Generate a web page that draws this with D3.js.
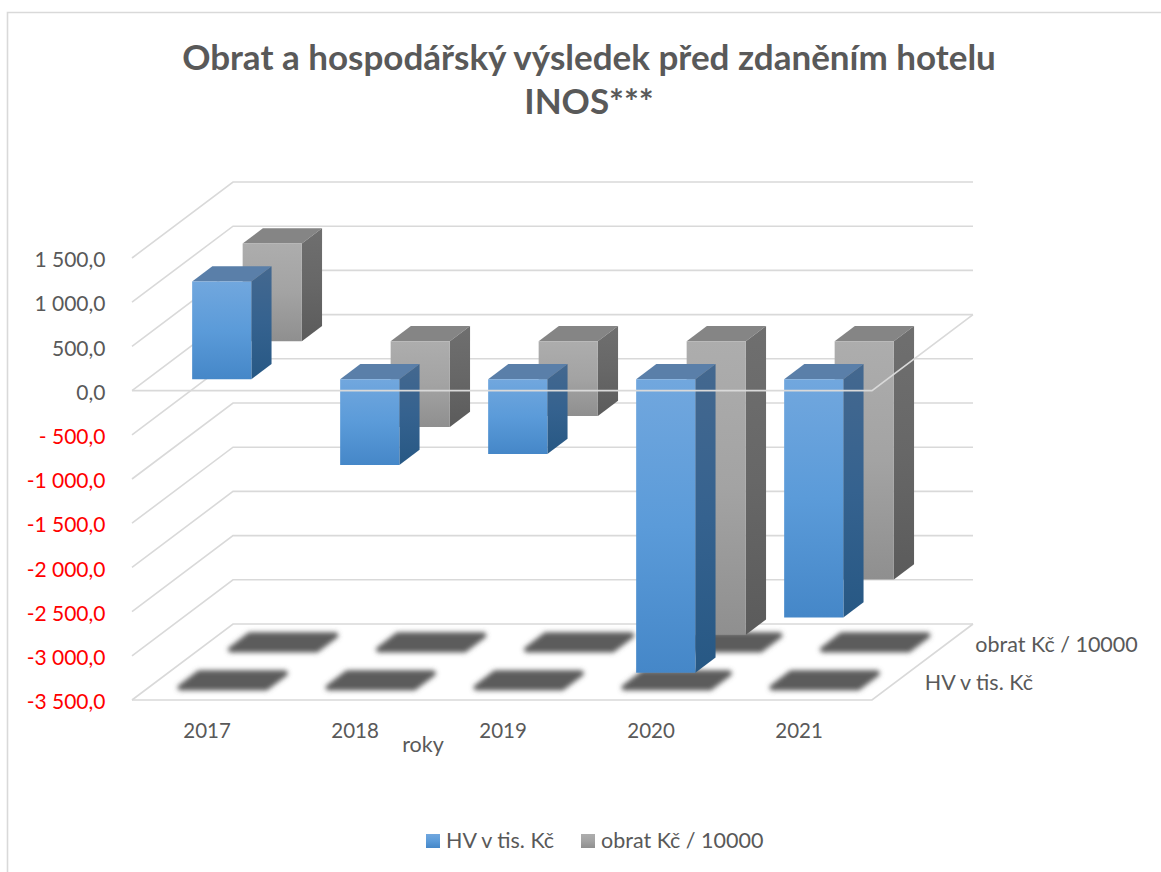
<!DOCTYPE html>
<html><head><meta charset="utf-8">
<script src="https://cdn.jsdelivr.net/npm/d3@7"></script>
<style>
html,body{margin:0;padding:0;background:#fff;overflow:hidden}
svg{display:block}
text{font-family:Lato,"Open Sans",sans-serif;fill:#595959}
</style></head><body><svg id="c" width="1161" height="872"></svg>
<script>
const titleLines = ["Obrat a hospodářský výsledek před zdaněním hotelu", "INOS***"];
const years = ["2017", "2018", "2019", "2020", "2021"];
const seriesNames = ["HV v tis. Kč", "obrat Kč / 10000"];
const hvValues = [1105, -970, -845, -3320, -2695];
const obratValues = [1105, -970, -845, -3320, -2695];
const yTicks = [1500, 1000, 500, 0, -500, -1000, -1500, -2000, -2500, -3000, -3500];
const yTickLabels = ["1 500,0", "1 000,0", "500,0", "0,0", "- 500,0", "-1 000,0", "-1 500,0", "-2 000,0", "-2 500,0", "-3 000,0", "-3 500,0"];
const xAxisTitle = "roky";

const svg = d3.select("#c");
const W = 1161, H = 872;
const x = d3.scaleBand().domain(years).range([132.6, 872.6]).paddingInner(0.6).paddingOuter(0.3);
const y = d3.scaleLinear().domain([-3500, 1500]).range([700, 258]);
const depth = d3.scaleBand().domain(seriesNames).range([0, 1]).paddingInner(0.6).paddingOuter(0.3);
const depthX = d3.scaleLinear().domain([0, 1]).range([0, 101]);
const depthY = d3.scaleLinear().domain([0, 1]).range([0, -76]);
const P = (px, v, t) => [px + depthX(t), y(v) + depthY(t)];
const poly = pts => d3.line()(pts) + "Z";
const x0 = x.range()[0], x1 = x.range()[1];

const defs = svg.append("defs");
function grad(id, stops) {
  const g = defs.append("linearGradient").attr("id", id).attr("x1", 0).attr("x2", 0).attr("y1", 0).attr("y2", 1);
  stops.forEach(s => g.append("stop").attr("offset", s[0]).attr("stop-color", s[1]));
}
grad("bf", [[0, "#71a7de"], [0.5, "#5b9bd9"], [1, "#4587c8"]]);
grad("bs", [[0, "#44688f"], [0.5, "#35628f"], [1, "#275884"]]);
grad("gf", [[0, "#adadad"], [0.5, "#a3a3a3"], [1, "#8f8f8f"]]);
grad("gs", [[0, "#6f6f6f"], [0.5, "#676767"], [1, "#5b5b5b"]]);
defs.append("filter").attr("id", "blur").attr("x", "-20%").attr("y", "-40%").attr("width", "140%").attr("height", "180%")
  .append("feGaussianBlur").attr("stdDeviation", 2.4);

// chart border (top and left visible)
svg.append("path").attr("d", d3.line()([[7.5, H], [7.5, 12.5], [W, 12.5]]))
  .attr("fill", "none").attr("stroke", "#d9d9d9").attr("stroke-width", 1.6);

// title
svg.append("g").selectAll("text").data(titleLines).join("text")
  .attr("x", 589).attr("y", (d, i) => 70 + i * 44)
  .attr("text-anchor", "middle").attr("font-size", 35).attr("font-weight", 700)
  .text(d => d);

// walls
const grid = svg.append("g").attr("fill", "none").attr("stroke", "#d9d9d9").attr("stroke-width", 1.6);
yTicks.forEach(v => {
  grid.append("path").attr("d", d3.line()([P(x0 - 0.6, v, 0), P(x0 - 0.6, v, 1), P(x1 - 0.6, v, 1)]));
});
// floor front and right edge
grid.append("path").attr("d", d3.line()([P(x0 - 0.6, -3500, 0), P(x1 - 0.6, -3500, 0), P(x1 - 0.6, -3500, 1)]));

// shadows on the floor
const rows = [{name: seriesNames[1], vals: obratValues, f: "gf", s: "gs", top: "#858585"},
              {name: seriesNames[0], vals: hvValues, f: "bf", s: "bs", top: "#5a7fa9"}];
const sh = svg.append("g").attr("fill", "#5c5c5c").attr("stroke", "#5c5c5c").attr("stroke-width", 6)
  .attr("stroke-linejoin", "round").attr("filter", "url(#blur)");
rows.forEach(r => years.forEach(yr => {
  const a = x(yr) - 13, b = x(yr) + x.bandwidth() + 13;
  const t0 = depth(r.name) + 0.014, t1 = depth(r.name) + depth.bandwidth() + 0.002;
  sh.append("path").attr("d", poly([P(a, -3500, t0), P(b, -3500, t0), P(b, -3500, t1), P(a, -3500, t1)]));
}));

// bars
const bars = svg.append("g");
rows.forEach(r => years.forEach((yr, i) => {
  const v = r.vals[i];
  const hi = Math.max(v, 0), lo = Math.min(v, 0);
  const a = x(yr), b = a + x.bandwidth();
  const t0 = depth(r.name), t1 = t0 + depth.bandwidth();
  const g = bars.append("g");
  g.append("path").attr("d", poly([P(a, hi, t0), P(b, hi, t0), P(b, hi, t1), P(a, hi, t1)])).attr("fill", r.top);
  g.append("path").attr("d", poly([P(b, hi, t0), P(b, hi, t1), P(b, lo, t1), P(b, lo, t0)])).attr("fill", `url(#${r.s})`);
  g.append("path").attr("d", poly([P(a, hi, t0), P(b, hi, t0), P(b, lo, t0), P(a, lo, t0)])).attr("fill", `url(#${r.f})`);
}));

// zero plane, front and right edge, over the bars
svg.append("path").attr("d", d3.line()([P(x0 - 0.6, 0, 0), P(x1 - 0.6, 0, 0), P(x1 - 0.6, 0, 1)]))
  .attr("fill", "none").attr("stroke", "#d9d9d9").attr("stroke-width", 1.6);

// value axis
const axisY = d3.axisLeft(y).tickValues(yTicks).tickSize(0).tickPadding(0)
  .tickFormat(d => yTickLabels[yTicks.indexOf(d)]);
const gy = svg.append("g").attr("transform", "translate(105.5,2)").call(axisY);
gy.select(".domain").remove();
gy.selectAll("text").attr("font-size", 21).attr("font-family", "Lato,'Open Sans',sans-serif")
  .style("fill", d => d < 0 ? "#ff0000" : "#595959");

// category axis
const axisX = d3.axisBottom(x).tickSize(0).tickPadding(0);
const gx = svg.append("g").attr("transform", "translate(0.5,723)").call(axisX);
gx.select(".domain").remove();
gx.selectAll("text").attr("font-size", 20.5).attr("font-family", "Lato,'Open Sans',sans-serif").style("fill", "#595959");

// axis title
svg.append("text").attr("x", 423).attr("y", 752).attr("text-anchor", "middle").attr("font-size", 21.5).text(xAxisTitle);

// depth axis labels
svg.append("g").selectAll("text").data(seriesNames).join("text")
  .attr("x", d => P(x1, -3500, depth(d) + depth.bandwidth() / 2)[0] + 27)
  .attr("y", d => P(x1, -3500, depth(d) + depth.bandwidth() / 2)[1] + 9)
  .attr("font-size", 21.5).text(d => d);

// legend
const legendX = [426, 581];
const lg = svg.append("g");
seriesNames.forEach((n, i) => {
  lg.append("rect").attr("x", legendX[i]).attr("y", 834).attr("width", 14).attr("height", 14)
    .attr("fill", i === 0 ? "url(#bf)" : "url(#gf)");
  lg.append("text").attr("x", legendX[i] + 20).attr("y", 848).attr("font-size", 21.5).text(n);
});
</script></body></html>
